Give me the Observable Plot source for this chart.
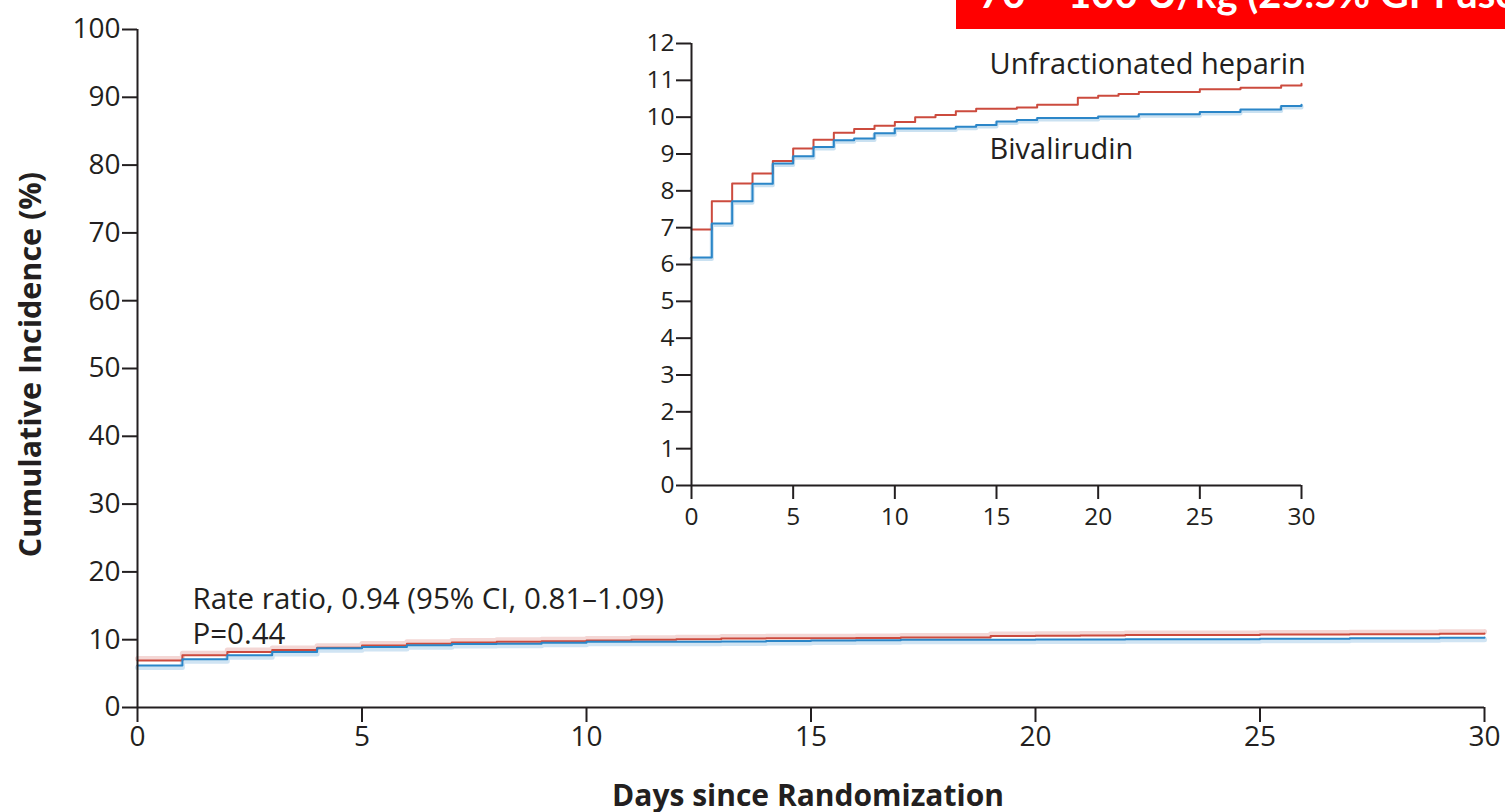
<!DOCTYPE html>
<html>
<head>
<meta charset="utf-8">
<script src="https://cdn.jsdelivr.net/npm/d3@7"></script>
<script src="https://cdn.jsdelivr.net/npm/@observablehq/plot@0.6"></script>
<style>
  html, body { margin: 0; padding: 0; background: #fff; overflow: hidden; }
  #wrap { position: relative; width: 1505px; height: 812px; }
  #main { position: absolute; left: 0; top: 0; }
  #inset { position: absolute; left: 620px; top: 20px; }
  #banner { position: absolute; left: 956px; top: 0; width: 549px; height: 29px; background: #ff0000; overflow: hidden; }
  #banner span { position: absolute; left: 23px; top: -27px; font: bold 40px Lato, "Open Sans", sans-serif; line-height: 40px; color: #fff; white-space: nowrap; }
</style>
</head>
<body>
<div id="wrap">
  <div id="main"></div>
  <div id="inset"></div>
  <div id="banner"><span id="bannerText"></span></div>
</div>
<script>
// ---- data ----
const heparinDays   = [0, 1, 2, 3, 4, 5, 6, 7, 8, 9, 10, 11, 12, 13, 14, 16, 17, 19, 20, 21, 22, 25, 27, 29, 30];
const heparinValues = [6.95, 7.72, 8.20, 8.47, 8.81, 9.15, 9.39, 9.58, 9.68, 9.77, 9.87, 10.00, 10.06, 10.16, 10.23, 10.26, 10.34, 10.53, 10.58, 10.63, 10.68, 10.76, 10.80, 10.86, 10.91];
const bivalDays     = [0, 1, 2, 3, 4, 5, 6, 7, 8, 9, 10, 13, 14, 15, 16, 17, 20, 22, 25, 27, 29, 30];
const bivalValues   = [6.19, 7.11, 7.72, 8.19, 8.74, 8.94, 9.19, 9.37, 9.42, 9.56, 9.69, 9.74, 9.79, 9.88, 9.92, 9.98, 10.02, 10.08, 10.14, 10.21, 10.30, 10.34];
const seriesNames   = ["Unfractionated heparin", "Bivalirudin"];
const xTicks        = [0, 5, 10, 15, 20, 25, 30];
const mainYTicks    = [0, 10, 20, 30, 40, 50, 60, 70, 80, 90, 100];
const insetYTicks   = [0, 1, 2, 3, 4, 5, 6, 7, 8, 9, 10, 11, 12];
const xTitle        = "Days since Randomization";
const yTitle        = "Cumulative Incidence (%)";
const statsText     = ["Rate ratio, 0.94 (95% CI, 0.81\u20131.09)", "P=0.44"];
const bannerLabel   = "70 \u2013 100 U/kg (25.5% GPI use)";

const RED = "#cc4b3e", BLUE = "#2b86c8", INK = "#231f20";
const FONT = "'Open Sans', Lato, sans-serif";

const heparin = heparinDays.map((d, i) => ({day: d, value: heparinValues[i]}));
const bival   = bivalDays.map((d, i) => ({day: d, value: bivalValues[i]}));

// ---- main chart ----
const main = Plot.plot({
  width: 1505, height: 812,
  marginLeft: 137, marginRight: 21, marginTop: 29, marginBottom: 105,
  style: {fontFamily: FONT, color: INK, background: "transparent", overflow: "visible"},
  x: {domain: [0, 30]},
  y: {domain: [0, 100]},
  marks: [
    Plot.axisY(mainYTicks, {tickSize: 15, tickPadding: 2, fontSize: 28, strokeWidth: 2, label: null, fill: INK}),
    Plot.axisX(xTicks, {tickSize: 15, tickPadding: 4, fontSize: 28, strokeWidth: 2, label: null, fill: INK}),
    Plot.line(heparin, {x: "day", y: "value", curve: "step-after", stroke: RED, strokeWidth: 5, strokeOpacity: 0.22, dy: -2}),
    Plot.line(bival, {x: "day", y: "value", curve: "step-after", stroke: BLUE, strokeWidth: 5, strokeOpacity: 0.22, dy: 2}),
    Plot.line(heparin, {x: "day", y: "value", curve: "step-after", stroke: RED, strokeWidth: 2}),
    Plot.line(bival, {x: "day", y: "value", curve: "step-after", stroke: BLUE, strokeWidth: 2}),
    Plot.ruleX([0], {stroke: INK, strokeWidth: 2}),
    Plot.ruleY([0], {stroke: INK, strokeWidth: 2}),
    Plot.text([statsText.join("\n")], {frameAnchor: "bottom-left", dx: 55, dy: -64, lineAnchor: "bottom", textAnchor: "start", fontSize: 29.5, lineHeight: 1.18, fill: INK}),
    Plot.text([xTitle], {frameAnchor: "bottom", dx: -3, dy: 98, lineAnchor: "bottom", fontSize: 30, fontWeight: "bold", fill: INK}),
    Plot.text([yTitle], {frameAnchor: "left", textAnchor: "middle", dx: -106, dy: -4, rotate: -90, lineAnchor: "middle", fontSize: 30.5, fontWeight: "bold", fill: INK})
  ]
});
document.getElementById("main").appendChild(main);

// ---- inset ----
const inset = Plot.plot({
  width: 711, height: 515,
  marginLeft: 71, marginRight: 30, marginTop: 23, marginBottom: 50,
  style: {fontFamily: FONT, color: INK, background: "transparent", overflow: "visible"},
  x: {domain: [0, 30]},
  y: {domain: [0, 12]},
  marks: [
    Plot.axisY(insetYTicks, {tickSize: 15, tickPadding: 2, fontSize: 24.5, strokeWidth: 2, label: null, fill: INK}),
    Plot.axisX(xTicks, {tickSize: 14, tickPadding: 8, fontSize: 24.5, strokeWidth: 2, label: null, fill: INK}),
    Plot.line(bival, {x: "day", y: "value", curve: "step-after", stroke: BLUE, strokeWidth: 4, strokeOpacity: 0.25, dy: 1.5}),
    Plot.line(heparin, {x: "day", y: "value", curve: "step-after", stroke: RED, strokeWidth: 2}),
    Plot.line(bival, {x: "day", y: "value", curve: "step-after", stroke: BLUE, strokeWidth: 2}),
    Plot.ruleX([0], {stroke: INK, strokeWidth: 2}),
    Plot.ruleY([0], {stroke: INK, strokeWidth: 2}),
    Plot.text([seriesNames[0]], {frameAnchor: "top-left", dx: 298, dy: 30, lineAnchor: "bottom", textAnchor: "start", fontSize: 29, fill: INK}),
    Plot.text([seriesNames[1]], {frameAnchor: "top-left", dx: 298, dy: 115, lineAnchor: "bottom", textAnchor: "start", fontSize: 29, fill: INK})
  ]
});
document.getElementById("inset").appendChild(inset);

document.getElementById("bannerText").textContent = bannerLabel;
</script>
</body>
</html>
